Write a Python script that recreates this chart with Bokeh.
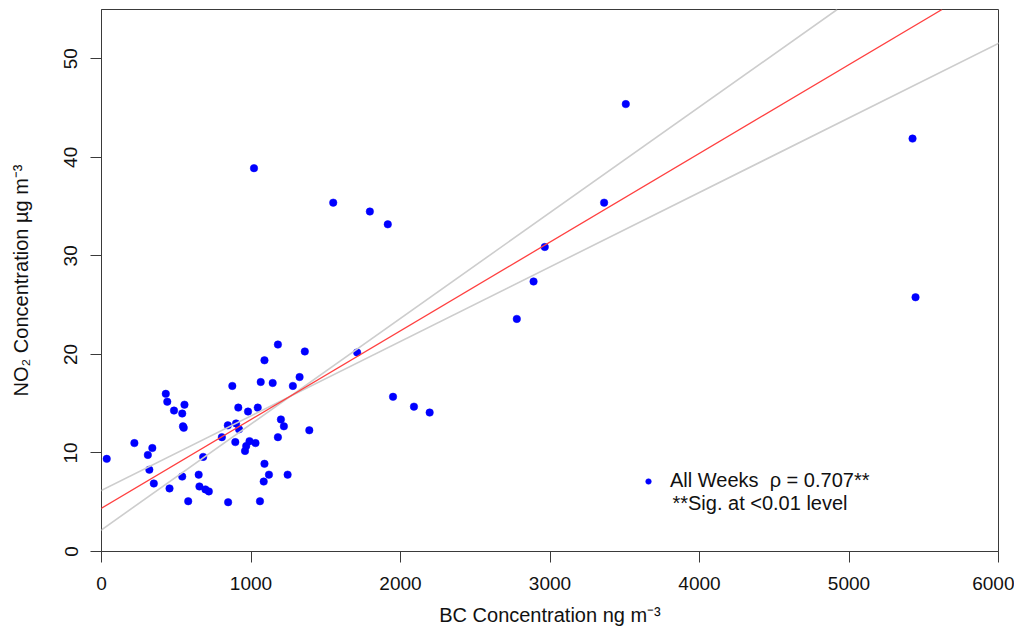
from bokeh.plotting import figure
from bokeh.models import Slope, Legend, LegendItem, Label, Range1d, FixedTicker
from bokeh.embed import file_html
from bokeh.resources import INLINE

# ---- data (BC ng m^-3, NO2 ug m^-3) ----
bc = [35, 220, 340, 310, 320, 350, 430, 440, 485, 540, 555, 545, 550,
      455, 540, 580, 650, 655, 680, 695, 718, 805, 845, 847, 875, 895,
      900, 915, 920, 960, 968, 980, 990, 1020, 1030, 1045, 1060, 1065,
      1085, 1090, 1090, 1120, 1145, 1180, 1180, 1200, 1220, 1245, 1280,
      1325, 1360, 1390, 1550, 1710, 1795, 1915, 1950, 2090, 2195, 2778,
      2890, 2965, 3362, 3507, 5425, 5445]
no2 = [9.4, 11.0, 10.5, 9.8, 8.3, 6.9, 16.0, 15.2, 14.3, 14.0, 14.9, 12.7, 12.55,
       6.4, 7.6, 5.1, 7.8, 6.6, 9.6, 6.3, 6.1, 11.6, 12.8, 5.0, 16.8, 11.1,
       13.0, 14.6, 12.4, 10.2, 10.7, 14.2, 11.2, 38.9, 11.0, 14.6, 5.1, 17.2,
       7.1, 8.9, 19.4, 7.8, 17.1, 21.0, 11.6, 13.4, 12.7, 7.8, 16.8,
       17.7, 20.3, 12.3, 35.4, 20.2, 34.5, 33.2, 15.7, 14.7, 14.1, 23.6,
       27.4, 30.9, 35.4, 45.4, 41.9, 25.8]

# fitted lines: (intercept, slope)
fit_main = (4.4, 0.00900)      # red line
fit_steep = (2.2, 0.01073)     # grey line (steeper)
fit_flat = (6.2, 0.00756)      # grey line (flatter)

x_ticks = [0, 1000, 2000, 3000, 4000, 5000, 6000]
y_ticks = [0, 10, 20, 30, 40, 50]
legend_text = "All Weeks \u00a0\u03c1 = 0.707**"
sig_text = "**Sig. at <0.01 level"

FONT = "Liberation Sans"
AX = "#3a3a3a"
TXT = "#111111"

p = figure(frame_width=897, frame_height=542, output_backend="svg",
           toolbar_location=None, x_range=Range1d(0, 6000), y_range=Range1d(0, 55),
           min_border_left=101, min_border_right=16, min_border_top=9,
           min_border_bottom=76, background_fill_color="white",
           border_fill_color="white")

p.grid.visible = False
p.outline_line_color = AX
p.outline_line_width = 1

for ax in (p.xaxis[0], p.yaxis[0]):
    ax.axis_line_color = AX
    ax.major_tick_line_color = AX
    ax.major_tick_out = 11
    ax.major_tick_in = 0
    ax.minor_tick_line_color = None
    ax.major_label_text_font = FONT
    ax.major_label_text_font_size = "19px"
    ax.major_label_text_color = TXT
    ax.axis_label_text_font = FONT
    ax.axis_label_text_font_size = "20px"
    ax.axis_label_text_font_style = "normal"
    ax.axis_label_text_color = TXT

p.xaxis.ticker = FixedTicker(ticks=x_ticks)
p.yaxis.ticker = FixedTicker(ticks=y_ticks)
p.yaxis.major_label_orientation = "vertical"
p.xaxis.axis_label = "BC Concentration ng m\u207b\u00b3"
p.yaxis.axis_label = "NO\u2082 Concentration \u00b5g m\u207b\u00b3"
p.xaxis.major_label_standoff = 14
p.xaxis.axis_label_standoff = 11
p.yaxis.major_label_standoff = 13
p.yaxis.axis_label_standoff = 30

for (b0, b1), col, w in ((fit_steep, "#cdcdcd", 1.6), (fit_flat, "#cdcdcd", 1.6),
                         (fit_main, "#ff4040", 1.3)):
    p.add_layout(Slope(gradient=b1, y_intercept=b0, line_color=col, line_width=w))

pts = p.scatter(bc, no2, size=7.5, fill_color="#0000ff", line_color="#0000ff",
                line_width=0.5)

legend = Legend(items=[LegendItem(label=legend_text, renderers=[pts])],
                location=(540, 59), margin=0, padding=0,
                glyph_width=14, glyph_height=20, label_height=20,
                label_standoff=15, border_line_alpha=0,
                background_fill_alpha=0,
                label_text_font=FONT, label_text_font_size="20px",
                label_text_color=TXT)
p.add_layout(legend)

p.add_layout(Label(x=3819, y=4.95, text=sig_text, text_font=FONT,
                   text_font_size="20px", text_color=TXT,
                   text_baseline="alphabetic"))

open("out.html", "w").write(file_html(p, INLINE))
